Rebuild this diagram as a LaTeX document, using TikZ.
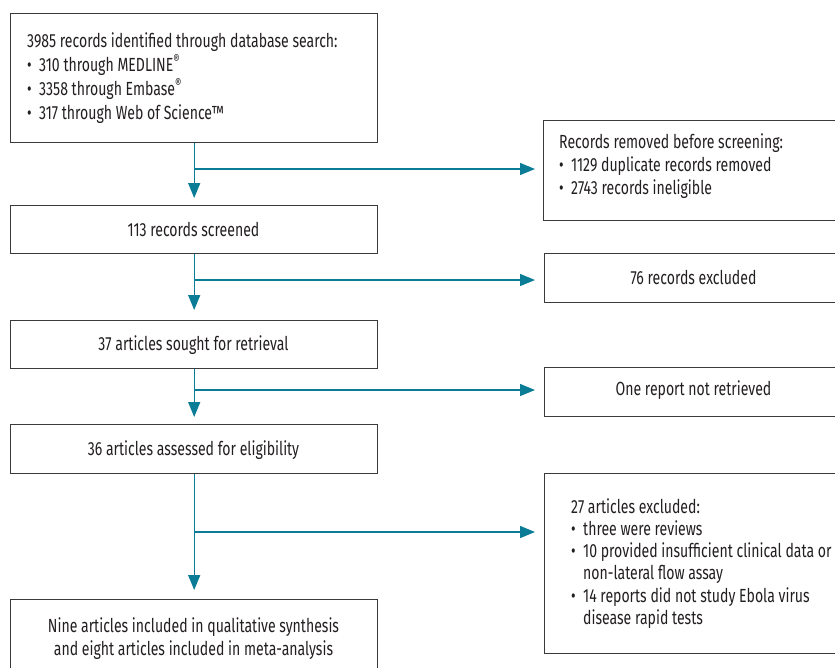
\documentclass[tikz,border=0pt]{standalone}
\usepackage{fontspec}
\setmainfont{Fira Sans}[FakeStretch=0.74]
\usetikzlibrary{arrows.meta}
\definecolor{flowteal}{HTML}{0A7C95}
\definecolor{boxline}{HTML}{3A3A3A}
\definecolor{inktext}{HTML}{231F20}
\newcommand{\itm}[1]{\makebox[12pt][l]{\textbullet}#1}
\newcommand{\cnt}[1]{\hspace*{12pt}#1}
\begin{document}
\begin{tikzpicture}[x=1pt,y=-1pt,
  box/.style={draw=boxline, line width=1.4pt, anchor=north west, inner sep=0pt},
  txt/.style={inner sep=0pt, text=inktext, font=\fontsize{19}{23}\selectfont},
  ltxt/.style={txt, anchor=base west},
  ctxt/.style={txt, anchor=base},
  arr/.style={draw=flowteal, line width=1.4pt, -{Triangle[length=15pt,width=12pt]}}]
\useasboundingbox (0,0) rectangle (835,667);
\clip (0,0) rectangle (835,667);
% left column boxes
\node[box, minimum width=367pt, minimum height=129pt] (b1) at (10,13) {};
\node[box, minimum width=367pt, minimum height=48pt] (b2) at (10,205) {};
\node[box, minimum width=367pt, minimum height=48pt] (b3) at (10,320) {};
\node[box, minimum width=367pt, minimum height=49pt] (b4) at (10,424) {};
\node[box, minimum width=367pt, minimum height=90pt] (b5) at (10,599) {};
% right column boxes
\node[box, minimum width=300pt, minimum height=100pt] (r1) at (543,120) {};
\node[box, minimum width=300pt, minimum height=49pt] (r2) at (544,253) {};
\node[box, minimum width=300pt, minimum height=49pt] (r3) at (544,367) {};
\node[box, minimum width=300pt, minimum height=180pt] (r4) at (544,473) {};
% texts
\node[ltxt] (t1a) at (27,47) {3985 records identified through database search:};
\node[ltxt] (t1b) at (27,71) {\itm{310 through MEDLINE\textsuperscript{\textregistered}}};
\node[ltxt] (t1c) at (27,95) {\itm{3358 through Embase\textsuperscript{\textregistered}}};
\node[ltxt] (t1d) at (27,119) {\itm{317 through Web of Science\texttrademark}};
\node[ctxt] (t2) at (193.5,236) {113 records screened};
\node[ctxt] (t3) at (193.5,350) {37 articles sought for retrieval};
\node[ctxt] (t4) at (193.5,455) {36 articles assessed for eligibility};
\node[ctxt] (t5a) at (193.5,632) {Nine articles included in qualitative synthesis};
\node[ctxt] (t5b) at (193.5,655) {and eight articles included in meta-analysis};
\node[ltxt] (u1a) at (559,148) {Records removed before screening:};
\node[ltxt] (u1b) at (559,171) {\itm{1129 duplicate records removed}};
\node[ltxt] (u1c) at (559,194) {\itm{2743 records ineligible}};
\node[ctxt] (u2) at (693.5,284) {76 records excluded};
\node[ctxt] (u3) at (693.5,395) {One report not retrieved};
\node[ltxt] (u4a) at (571,513) {27 articles excluded:};
\node[ltxt] (u4b) at (571,535) {\itm{three were reviews}};
\node[ltxt] (u4c) at (571,557) {\itm{10 provided insufficient clinical data or}};
\node[ltxt] (u4d) at (571,579.5) {\cnt{non-lateral flow assay}};
\node[ltxt] (u4e) at (571,602) {\itm{14 reports did not study Ebola virus}};
\node[ltxt] (u4f) at (571,624) {\cnt{disease rapid tests}};
% junctions
\coordinate (j1) at (193.5,169);
\coordinate (j2) at (193.5,280);
\coordinate (j3) at (193.5,390);
\coordinate (j4) at (193.5,532);
% connectors
\draw[arr, shorten >=7pt] (b1.south) -- (b2.north);
\draw[arr, shorten >=10pt] (b2.south) -- (b3.north);
\draw[arr, shorten >=7pt] (b3.south) -- (b4.north);
\draw[arr, shorten >=9pt] (b4.south) -- (b5.north);
\draw[arr, shorten >=8pt] (j1) -- (j1 -| r1.west);
\draw[arr, shorten >=9pt] (j2) -- (j2 -| r2.west);
\draw[arr, shorten >=9pt] (j3) -- (j3 -| r3.west);
\draw[arr, shorten >=9pt] (j4) -- (j4 -| r4.west);
\end{tikzpicture}
\end{document}
